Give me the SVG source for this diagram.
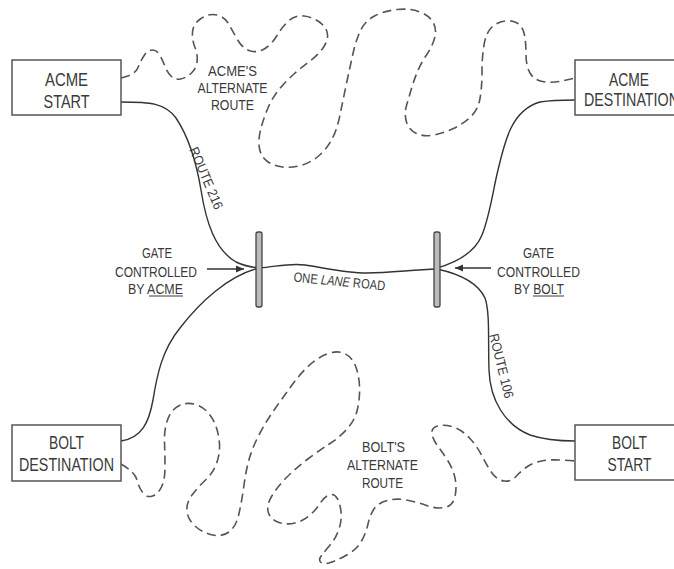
<svg xmlns="http://www.w3.org/2000/svg" width="674" height="569" viewBox="0 0 674 569">
<style>
.box{fill:#fff;stroke:#555;stroke-width:1.5}
.bt{font-family:"Liberation Sans Narrow","Liberation Sans",Arial,sans-serif;font-size:19px;fill:#3a3a3a;text-anchor:middle}
.lb{font-family:"Liberation Sans Narrow","Liberation Sans",Arial,sans-serif;font-size:15px;fill:#3a3a3a;text-anchor:middle}
.rl{font-family:"Liberation Sans Narrow","Liberation Sans",Arial,sans-serif;font-size:13.5px;fill:#3a3a3a;text-anchor:middle}
.road{fill:none;stroke:#333;stroke-width:1.4}
.alt{fill:none;stroke:#555;stroke-width:1.6;stroke-dasharray:9 5}
.gate{fill:#bbb;stroke:#444;stroke-width:1.3}
.ptr{stroke:#333;stroke-width:1.3;marker-end:url(#ah)}
.ul{stroke:#3a3a3a;stroke-width:1}
</style>
<defs>
<marker id="ah" markerWidth="9" markerHeight="8" refX="8" refY="4" orient="auto" markerUnits="userSpaceOnUse">
<path d="M0,0.5 L8,4 L0,7.5 Z" fill="#333"/>
</marker>
</defs>
<rect width="674" height="569" fill="#fff"/>
<g id="connectors">
<path id="route216" class="road" d="M121,102 C150,102 165,103 176,118 C188,136 196,160 201,190 C206,222 215,250 236,262 C244,266 250,267 259,268"/>
<path id="bolt-dest-road" class="road" d="M121,441 C142,438 149,422 153,400 C157,375 162,350 180,328 C200,302 228,276 259,268"/>
<path id="one-lane" class="road" d="M259,268 C280,266 290,263 305,265 C325,268 345,273 367,273 C390,273 410,270 437,269"/>
<path id="acme-dest-road" class="road" d="M437,268 C458,262 475,252 482,235 C490,215 493,190 498,170 C505,140 512,110 540,102 C552,100 565,100 575,100"/>
<path id="route106" class="road" d="M437,269 C460,274 478,283 485,298 C490,312 488,340 489,370 C490,400 505,425 530,435 C545,440 560,441 575,441"/>
<path id="acme-alt" class="alt" d="M121,78 Q135,75 138,67.5 Q141,60 144.5,55 Q148,50 152.5,50 Q157,50 160,55.5 Q163,61 165,66.5 Q167,72 171,76 Q175,80 180.5,79 Q186,78 191,73.5 Q196,69 197,62 Q198,55 195,47.5 Q192,40 192.5,32 Q193,24 201,18.5 Q209,13 217,15 Q225,17 229,24.5 Q233,32 238,40.5 Q243,49 250.5,51 Q258,53 265,48.5 Q272,44 277,35.5 Q282,27 288.5,21 Q295,15 304,16 Q313,17 320,22.5 Q327,28 327.5,34.5 Q328,41 323,48 Q318,55 310,61 Q302,67 294,74 Q286,81 279,89.5 Q272,98 267.5,109 Q263,120 260.5,130 Q258,140 259.5,148.5 Q261,157 267.5,161.5 Q274,166 282.5,167 Q291,168 300.5,165.5 Q310,163 318,156.5 Q326,150 331.5,140 Q337,130 340,115 Q343,100 346.5,83.5 Q350,67 353,53.5 Q356,40 360.5,30.5 Q365,21 374.5,16 Q384,11 397,9.5 Q410,8 420,12 Q430,16 433.5,23 Q437,30 434.5,38.5 Q432,47 426.5,55 Q421,63 417.5,71.5 Q414,80 411.5,88.5 Q409,97 406.5,105.5 Q404,114 406.5,122 Q409,130 416.5,133.5 Q424,137 434,135 Q444,133 453.5,128.5 Q463,124 470.5,117 Q478,110 480,98.5 Q482,87 482,72 Q482,57 484,45 Q486,33 491.5,27.5 Q497,22 505,21 Q513,20 518,23.5 Q523,27 524.5,35 Q526,43 526,54.5 Q526,66 530,73 Q534,80 542.5,81.5 Q551,83 559,81.5 Q567,80 575,78"/>
<path id="bolt-alt" class="alt" d="M121,464 Q135,472 137,480 Q139,488 143,493 Q147,498 152.5,496 Q158,494 161.5,487 Q165,480 165,467.5 Q165,455 164.5,442.5 Q164,430 167.5,420 Q171,410 178.5,406 Q186,402 194,404 Q202,406 207.5,412 Q213,418 216,426.5 Q219,435 219.5,444.5 Q220,454 216.5,463.5 Q213,473 205.5,480 Q198,487 192,495 Q186,503 187,511.5 Q188,520 195.5,526.5 Q203,533 212.5,535 Q222,537 229,532 Q236,527 239,513.5 Q242,500 244,485 Q246,470 249.5,458 Q253,446 260,433 Q267,420 275.5,408 Q284,396 292,385 Q300,374 308.5,366 Q317,358 327,354 Q337,350 344.5,353.5 Q352,357 355.5,366 Q359,375 359.5,386.5 Q360,398 357.5,409 Q355,420 347.5,428.5 Q340,437 330,443.5 Q320,450 308.5,458.5 Q297,467 287,477 Q277,487 271.5,496.5 Q266,506 268.5,513 Q271,520 279,522.5 Q287,525 295,523 Q303,521 309.5,515.5 Q316,510 320,503.5 Q324,497 329,495 Q334,493 337,498 Q340,503 341,511.5 Q342,520 339,529 Q336,538 330.5,544.5 Q325,551 321.5,555.5 Q318,560 321,562.5 Q324,565 332,562 Q340,559 348.5,554 Q357,549 361.5,541 Q366,533 368,524 Q370,515 374,509 Q378,503 387,500.5 Q396,498 406.5,500 Q417,502 426.5,505.5 Q436,509 444.5,507.5 Q453,506 455,496.5 Q457,487 455,478 Q453,469 448,461 Q443,453 438,446.5 Q433,440 432,434 Q431,428 437.5,426 Q444,424 453,427 Q462,430 469.5,438 Q477,446 482,456 Q487,466 492,473 Q497,480 504,481 Q511,482 516,476.5 Q521,471 527.5,466.5 Q534,462 544,460.5 Q554,459 575,461"/>
<line class="ptr" x1="207" y1="269" x2="244" y2="269"/>
<line class="ptr" x1="491" y1="268" x2="455" y2="268"/>
<text class="rl" transform="translate(202,180) rotate(67)" textLength="66" lengthAdjust="spacingAndGlyphs">ROUTE 216</text>
<text class="rl" transform="translate(497,367) rotate(76)" textLength="66" lengthAdjust="spacingAndGlyphs">ROUTE 106</text>
<text class="rl" transform="translate(339,286) rotate(5.5)" textLength="92" lengthAdjust="spacingAndGlyphs">ONE <tspan font-style="italic">LANE</tspan> ROAD</text>
</g>
<g id="acme-start">
<rect class="box" x="12" y="60" width="109" height="55"/>
<text class="bt" x="66.5" y="86" textLength="43" lengthAdjust="spacingAndGlyphs">ACME</text>
<text class="bt" x="66.5" y="108" textLength="46" lengthAdjust="spacingAndGlyphs">START</text>
</g>
<g id="acme-destination">
<rect class="box" x="575" y="60" width="110" height="55"/>
<text class="bt" x="629" y="86" textLength="40" lengthAdjust="spacingAndGlyphs">ACME</text>
<text class="bt" x="631.5" y="106" textLength="95" lengthAdjust="spacingAndGlyphs">DESTINATION</text>
</g>
<g id="bolt-destination">
<rect class="box" x="12" y="425" width="109" height="56"/>
<text class="bt" x="66.5" y="449" textLength="35" lengthAdjust="spacingAndGlyphs">BOLT</text>
<text class="bt" x="66.5" y="471" textLength="95" lengthAdjust="spacingAndGlyphs">DESTINATION</text>
</g>
<g id="bolt-start">
<rect class="box" x="575" y="425" width="110" height="55"/>
<text class="bt" x="629.5" y="449" textLength="35" lengthAdjust="spacingAndGlyphs">BOLT</text>
<text class="bt" x="629.5" y="471" textLength="44" lengthAdjust="spacingAndGlyphs">START</text>
</g>
<g id="gate-acme">
<rect class="gate" x="256" y="232" width="6" height="75" rx="2"/>
<text class="lb" x="157" y="258" textLength="30" lengthAdjust="spacingAndGlyphs">GATE</text>
<text class="lb" x="156" y="276.5" textLength="82" lengthAdjust="spacingAndGlyphs">CONTROLLED</text>
<text class="lb" x="155.5" y="293.5" textLength="55" lengthAdjust="spacingAndGlyphs">BY ACME</text>
<line class="ul" x1="149" y1="296" x2="183" y2="296"/>
</g>
<g id="gate-bolt">
<rect class="gate" x="434" y="232" width="6" height="75" rx="2"/>
<text class="lb" x="538.5" y="258" textLength="31" lengthAdjust="spacingAndGlyphs">GATE</text>
<text class="lb" x="538.5" y="276.5" textLength="83" lengthAdjust="spacingAndGlyphs">CONTROLLED</text>
<text class="lb" x="539" y="293.5" textLength="50" lengthAdjust="spacingAndGlyphs">BY BOLT</text>
<line class="ul" x1="533" y1="296" x2="564" y2="296"/>
</g>
<g id="acme-alt-label">
<text class="lb" x="232.5" y="75.5" textLength="49" lengthAdjust="spacingAndGlyphs">ACME'S</text>
<text class="lb" x="232.5" y="93" textLength="70" lengthAdjust="spacingAndGlyphs">ALTERNATE</text>
<text class="lb" x="232.5" y="110" textLength="43" lengthAdjust="spacingAndGlyphs">ROUTE</text>
</g>
<g id="bolt-alt-label">
<text class="lb" x="383.5" y="452" textLength="43" lengthAdjust="spacingAndGlyphs">BOLT'S</text>
<text class="lb" x="382.5" y="470" textLength="71" lengthAdjust="spacingAndGlyphs">ALTERNATE</text>
<text class="lb" x="382.5" y="488" textLength="41" lengthAdjust="spacingAndGlyphs">ROUTE</text>
</g>
</svg>
